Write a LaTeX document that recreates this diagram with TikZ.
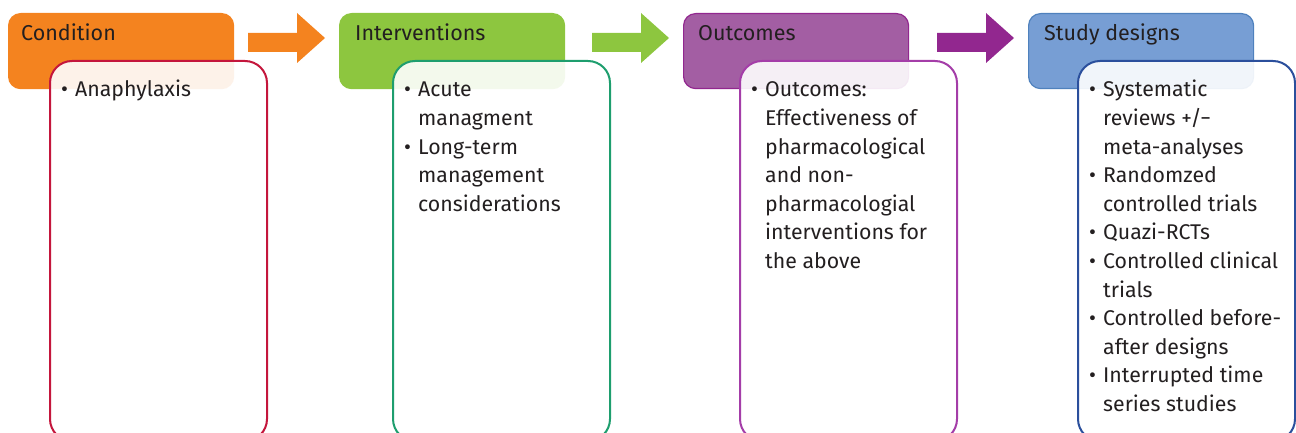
\documentclass[tikz,border=0pt]{standalone}
\usepackage{fontspec}
\setmainfont{Fira Sans}
\usepackage{tikz}
\usetikzlibrary{positioning}
\usepackage{xcolor}
\definecolor{condorange}{HTML}{F4831F}
\definecolor{condred}{HTML}{C4163C}
\definecolor{intgreen}{HTML}{8DC63F}
\definecolor{intteal}{HTML}{1E9E6E}
\definecolor{outpurple}{HTML}{92278F}
\definecolor{outhead}{HTML}{A35EA3}
\definecolor{outedge}{HTML}{A43DA8}
\definecolor{studyblue}{HTML}{779ED4}
\definecolor{studyedge}{HTML}{4F81BD}
\definecolor{studynavy}{HTML}{2B4F9C}
\definecolor{inktext}{HTML}{231F20}
\newcommand{\bul}{\makebox[14pt][l]{\textbullet}}
\newcommand{\ind}{\hspace*{14pt}}
\tikzset{
  headbox/.style={rounded corners=12pt,minimum width=225pt,minimum height=75pt,line width=1.2pt,anchor=north west,inner sep=0pt},
  bodybox/.style={rounded corners=22pt,minimum width=217pt,minimum height=380pt,line width=2pt,fill=white,fill opacity=0.9,anchor=north west,inner sep=0pt},
  headtext/.style={anchor=base west,text=inktext,font=\fontsize{21.5}{25}\selectfont,inner sep=0pt},
  bodytext/.style={anchor=base west,text=inktext,font=\fontsize{21.3}{28.6}\selectfont,inner sep=0pt}
}

\begin{document}
\begin{tikzpicture}[x=1pt,y=-1pt]
  \useasboundingbox (0,0) rectangle (1296,433);
  \clip (0,0) rectangle (1296,433);
  % block arrows between the headers
  \foreach \ax/\ac in {248/condorange,592/intgreen,937/outpurple} {
    \fill[\ac] (\ax,33) -- (\ax+49,33) -- (\ax+49,13) -- (\ax+77,38)
      -- (\ax+49,63) -- (\ax+49,52) -- (\ax,52) -- cycle;
  }
  % one column per PICO element
  \foreach \n/\hx/\tx/\bx/\hc/\he/\bc/\title/\items in {
    1/8/21/49/condorange/condorange/condred/Condition/{\bul Anaphylaxis},
    2/339/355/392/intgreen/intgreen/intteal/Interventions/{\bul Acute\\ \ind managment\\ \bul Long-term\\ \ind management\\ \ind considerations},
    3/683/698/739/outhead/outpurple/outedge/Outcomes/{\bul Outcomes:\\ \ind Effectiveness of\\ \ind pharmacological\\ \ind and non-\\ \ind pharmacologial\\ \ind interventions for\\ \ind the above},
    4/1028/1044/1077/studyblue/studyedge/studynavy/Study designs/{\bul Systematic\\ \ind reviews +/−\\ \ind meta-analyses\\ \bul Randomzed\\ \ind controlled trials\\ \bul Quazi-RCTs\\ \bul Controlled clinical\\ \ind trials\\ \bul Controlled before-\\ \ind after designs\\ \bul Interrupted time\\ \ind series studies}%
  } {
    \node[headbox,fill=\hc,draw=\he] (head\n) at (\hx,13) {};
    \node[headtext] (title\n) at (\tx,41) {\title};
    \node[bodybox,draw=\bc] (body\n) at (\bx,60) {};
    \node[bodytext] (list\n) at (\bx+12,97)
      {\begin{tabular}[t]{@{}l@{}}\items\end{tabular}};
  }
\end{tikzpicture}
\end{document}
